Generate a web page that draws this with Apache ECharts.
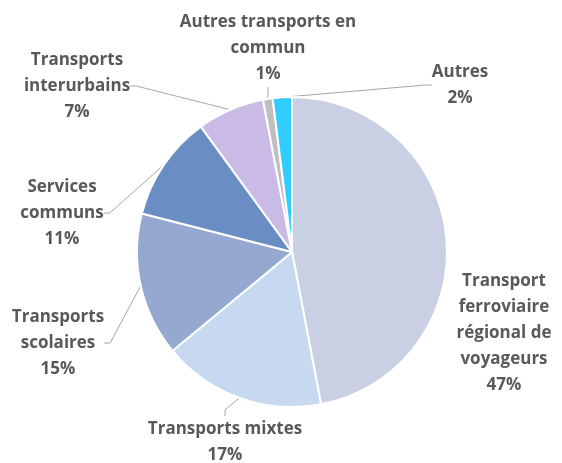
<!DOCTYPE html>
<html>
<head>
<meta charset="utf-8">
<script src="https://cdn.jsdelivr.net/npm/echarts@6/dist/echarts.min.js"></script>
<style>
  html, body { margin: 0; padding: 0; background: #fff; }
  #chart { width: 562px; height: 463px; }
</style>
</head>
<body>
<div id="chart"></div>
<script>
// Données
var categories = [
  'Transport\nferroviaire\nrégional de\nvoyageurs',
  'Transports mixtes',
  'Transports\nscolaires',
  'Services\ncommuns',
  'Transports\ninterurbains',
  'Autres transports en\ncommun',
  'Autres'
];
var shares = [47, 17, 15, 11, 7, 1, 2];
var colors = ['#C9D0E3', '#C6D9F0', '#95A8CF', '#6A8EC4', '#C9BBE6', '#BFBFBF', '#33CCFF'];

// positions des étiquettes (centre du bloc de texte)
var labelPos = [[504, 333], [225, 442], [58, 343], [62, 213], [77, 86], [268, 48], [460, 85]];

var chart = echarts.init(document.getElementById('chart'));

var data = categories.map(function (name, i) {
  var item = { name: name, value: shares[i], itemStyle: { color: colors[i] } };
  if (i === 0) item.labelLine = { show: false };
  return item;
});

chart.setOption({
  animation: false,
  series: [{
    type: 'pie',
    center: [292, 252],
    radius: 155,
    startAngle: 90,
    clockwise: true,
    data: data,
    itemStyle: { borderColor: '#fff', borderWidth: 2 },
    label: {
      formatter: '{b}\n{d}%',
      color: '#595959',
      fontFamily: '"Open Sans", sans-serif',
      fontWeight: 'bold',
      fontSize: 17,
      lineHeight: 26,
      align: 'center',
      overflow: 'none'
    },
    labelLine: {
      show: true,
      length: 10,
      length2: 6,
      lineStyle: { color: '#A6A6A6', width: 1 }
    },
    labelLayout: function (p) {
      var pos = labelPos[p.dataIndex];
      return { x: pos[0], y: pos[1], align: 'center', verticalAlign: 'middle' };
    }
  }]
});
</script>
</body>
</html>
